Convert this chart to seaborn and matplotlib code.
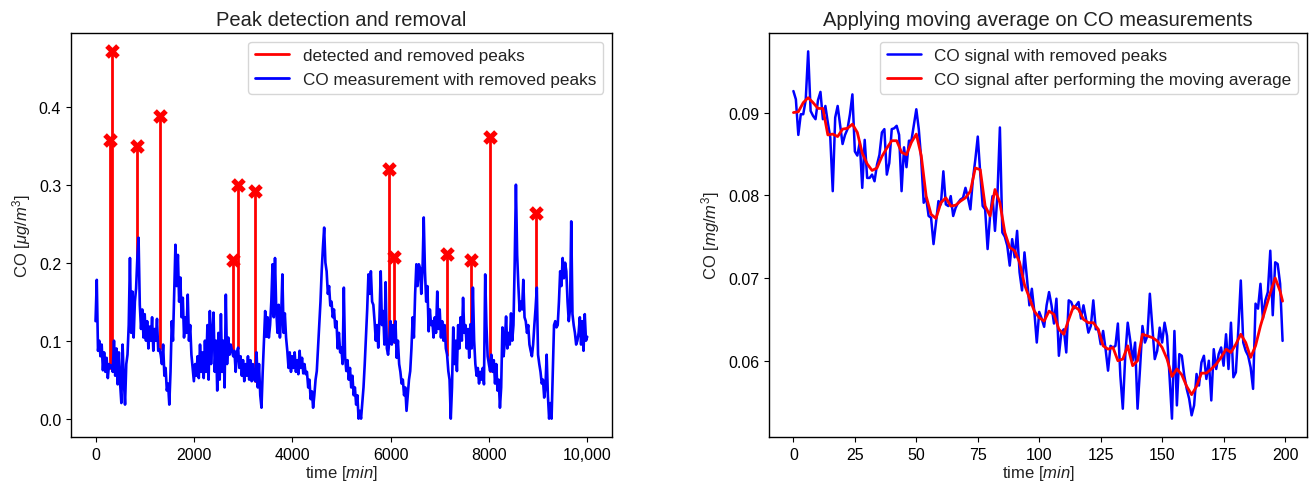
import numpy as np
import pandas as pd
import matplotlib
matplotlib.use("Agg")
import matplotlib.pyplot as plt
from matplotlib.lines import Line2D
import seaborn as sns

# ---------------- data: left panel (CO, 0..10000 min, every 25 min) ----------------
left_time = np.arange(0, 10001, 25)
left_co = [
    0.125, 0.178, 0.087, 0.100, 0.080, 0.095, 0.062, 0.085, 0.060, 0.078, 0.052, 0.070, 0.065, 0.068, 0.060, 0.100, 0.055, 0.090, 0.044, 0.085,
    0.045, 0.020, 0.095, 0.050, 0.018, 0.070, 0.082, 0.120, 0.206, 0.110, 0.163, 0.104, 0.150, 0.167, 0.206, 0.232, 0.146, 0.115, 0.140, 0.104,
    0.134, 0.100, 0.125, 0.090, 0.118, 0.100, 0.130, 0.087, 0.115, 0.100, 0.128, 0.087, 0.089, 0.082, 0.070, 0.095, 0.055, 0.065, 0.036, 0.045,
    0.018, 0.060, 0.125, 0.100, 0.160, 0.223, 0.170, 0.210, 0.150, 0.181, 0.130, 0.155, 0.104, 0.130, 0.110, 0.159, 0.100, 0.120, 0.082, 0.065,
    0.048, 0.070, 0.055, 0.080, 0.052, 0.095, 0.060, 0.085, 0.052, 0.100, 0.060, 0.120, 0.050, 0.138, 0.070, 0.110, 0.136, 0.060, 0.100, 0.036,
    0.110, 0.050, 0.134, 0.060, 0.100, 0.040, 0.159, 0.070, 0.104, 0.082, 0.095, 0.087, 0.080, 0.087, 0.060, 0.085, 0.091, 0.065, 0.080, 0.055,
    0.075, 0.048, 0.070, 0.055, 0.080, 0.050, 0.075, 0.048, 0.070, 0.050, 0.048, 0.085, 0.040, 0.070, 0.030, 0.014, 0.060, 0.100, 0.138, 0.105,
    0.130, 0.104, 0.120, 0.150, 0.198, 0.130, 0.206, 0.140, 0.110, 0.146, 0.104, 0.130, 0.185, 0.110, 0.135, 0.104, 0.087, 0.065, 0.085, 0.060,
    0.080, 0.065, 0.085, 0.060, 0.075, 0.057, 0.087, 0.065, 0.078, 0.058, 0.070, 0.057, 0.060, 0.040, 0.050, 0.025, 0.035, 0.014, 0.030, 0.050,
    0.061, 0.090, 0.120, 0.150, 0.190, 0.220, 0.245, 0.200, 0.189, 0.160, 0.170, 0.145, 0.150, 0.130, 0.140, 0.117, 0.125, 0.090, 0.110, 0.085,
    0.091, 0.070, 0.168, 0.080, 0.061, 0.075, 0.050, 0.065, 0.040, 0.055, 0.030, 0.040, 0.018, 0.030, 0.000, 0.010, 0.000, 0.020, 0.040, 0.070,
    0.104, 0.140, 0.185, 0.160, 0.189, 0.150, 0.146, 0.125, 0.100, 0.120, 0.091, 0.130, 0.189, 0.120, 0.138, 0.095, 0.175, 0.090, 0.082, 0.100,
    0.125, 0.095, 0.120, 0.098, 0.125, 0.078, 0.100, 0.070, 0.060, 0.045, 0.050, 0.030, 0.040, 0.010, 0.030, 0.050, 0.061, 0.090, 0.130, 0.104,
    0.160, 0.198, 0.170, 0.198, 0.193, 0.160, 0.190, 0.258, 0.189, 0.150, 0.170, 0.112, 0.140, 0.120, 0.125, 0.104, 0.130, 0.110, 0.163, 0.115,
    0.140, 0.104, 0.125, 0.100, 0.120, 0.090, 0.082, 0.061, 0.050, 0.000, 0.040, 0.117, 0.070, 0.100, 0.061, 0.120, 0.090, 0.130, 0.100, 0.155,
    0.110, 0.120, 0.090, 0.115, 0.078, 0.121, 0.090, 0.168, 0.100, 0.070, 0.055, 0.065, 0.045, 0.060, 0.050, 0.065, 0.044, 0.185, 0.120, 0.080,
    0.070, 0.061, 0.082, 0.060, 0.075, 0.045, 0.070, 0.036, 0.050, 0.014, 0.040, 0.117, 0.080, 0.100, 0.131, 0.090, 0.110, 0.095, 0.135, 0.100,
    0.120, 0.200, 0.300, 0.210, 0.170, 0.138, 0.150, 0.140, 0.178, 0.130, 0.125, 0.110, 0.120, 0.095, 0.087, 0.080, 0.095, 0.120, 0.142, 0.168,
    0.082, 0.070, 0.060, 0.045, 0.050, 0.027, 0.040, 0.082, 0.030, 0.000, 0.020, 0.000, 0.060, 0.120, 0.125, 0.117, 0.120, 0.150, 0.189, 0.170,
    0.206, 0.180, 0.200, 0.189, 0.150, 0.125, 0.140, 0.253, 0.134, 0.120, 0.110, 0.095, 0.100, 0.110, 0.130, 0.095, 0.125, 0.087, 0.134, 0.100,
    0.105,
]

# detected peaks: time, peak value, value of the signal under the peak
peak_time = [289, 336, 851, 1306, 2788, 2904, 3243, 5974, 6076, 7141, 7627, 8020, 8949]
peak_value = [0.357, 0.471, 0.350, 0.388, 0.203, 0.300, 0.292, 0.320, 0.207, 0.211, 0.203, 0.361, 0.264]
peak_base = [0.065, 0.068, 0.206, 0.089, 0.087, 0.091, 0.048, 0.100, 0.098, 0.082, 0.121, 0.061, 0.142]

left_xticks = [0, 2000, 4000, 6000, 8000, 10000]
left_xticklabels = ["0", "2000", "4000", "6000", "8000", "10,000"]

# ---------------- data: right panel (first 200 min) ----------------
right_time = np.arange(200)
right_co = [
    0.0926, 0.0916, 0.0873, 0.0898, 0.0898, 0.0915, 0.0974, 0.0902, 0.0896, 0.0892,
    0.0915, 0.0925, 0.0892, 0.0908, 0.0888, 0.0870, 0.0805, 0.0894, 0.0908, 0.0885,
    0.0862, 0.0873, 0.0880, 0.0898, 0.0922, 0.0853, 0.0848, 0.0864, 0.0809, 0.0867,
    0.0821, 0.0821, 0.0825, 0.0817, 0.0837, 0.0849, 0.0876, 0.0880, 0.0825, 0.0839,
    0.0880, 0.0881, 0.0884, 0.0873, 0.0805, 0.0858, 0.0834, 0.0866, 0.0866, 0.0885,
    0.0904, 0.0880, 0.0843, 0.0791, 0.0797, 0.0775, 0.0773, 0.0741, 0.0767, 0.0793,
    0.0789, 0.0829, 0.0789, 0.0787, 0.0799, 0.0775, 0.0785, 0.0791, 0.0795, 0.0797,
    0.0809, 0.0797, 0.0783, 0.0819, 0.0843, 0.0871, 0.0827, 0.0787, 0.0783, 0.0735,
    0.0775, 0.0799, 0.0757, 0.0800, 0.0882, 0.0755, 0.0750, 0.0739, 0.0715, 0.0747,
    0.0725, 0.0757, 0.0707, 0.0685, 0.0731, 0.0700, 0.0667, 0.0687, 0.0660, 0.0622,
    0.0659, 0.0651, 0.0641, 0.0667, 0.0683, 0.0667, 0.0645, 0.0675, 0.0606, 0.0634,
    0.0638, 0.0610, 0.0673, 0.0671, 0.0663, 0.0667, 0.0671, 0.0651, 0.0667, 0.0651,
    0.0634, 0.0642, 0.0673, 0.0638, 0.0638, 0.0620, 0.0636, 0.0614, 0.0588, 0.0618,
    0.0616, 0.0618, 0.0645, 0.0582, 0.0542, 0.0606, 0.0646, 0.0625, 0.0600, 0.0622,
    0.0542, 0.0590, 0.0642, 0.0622, 0.0630, 0.0681, 0.0642, 0.0602, 0.0612, 0.0640,
    0.0622, 0.0646, 0.0630, 0.0582, 0.0530, 0.0636, 0.0546, 0.0608, 0.0606, 0.0582,
    0.0566, 0.0554, 0.0534, 0.0546, 0.0584, 0.0570, 0.0598, 0.0606, 0.0578, 0.0600,
    0.0552, 0.0614, 0.0590, 0.0608, 0.0616, 0.0594, 0.0632, 0.0590, 0.0646, 0.0580,
    0.0586, 0.0638, 0.0697, 0.0622, 0.0612, 0.0606, 0.0592, 0.0566, 0.0669, 0.0663,
    0.0693, 0.0651, 0.0673, 0.0683, 0.0733, 0.0655, 0.0719, 0.0717, 0.0693, 0.0624,
]

# moving-average curve (every 2 min + last point)
ma_time = list(range(0, 200, 2)) + [199]
ma_co = [
    0.0900, 0.0901, 0.0912, 0.0918, 0.0912, 0.0905, 0.0905, 0.0873, 0.0874, 0.0871,
    0.0880, 0.0881, 0.0886, 0.0876, 0.0851, 0.0838, 0.0830, 0.0833, 0.0847, 0.0857,
    0.0866, 0.0866, 0.0852, 0.0849, 0.0864, 0.0874, 0.0848, 0.0799, 0.0777, 0.0772,
    0.0791, 0.0797, 0.0787, 0.0788, 0.0793, 0.0797, 0.0805, 0.0833, 0.0831, 0.0787,
    0.0775, 0.0807, 0.0791, 0.0755, 0.0737, 0.0733, 0.0719, 0.0692, 0.0676, 0.0660,
    0.0652, 0.0648, 0.0660, 0.0656, 0.0638, 0.0632, 0.0650, 0.0666, 0.0662, 0.0650,
    0.0646, 0.0646, 0.0638, 0.0618, 0.0614, 0.0616, 0.0600, 0.0602, 0.0618, 0.0594,
    0.0600, 0.0632, 0.0630, 0.0628, 0.0624, 0.0616, 0.0602, 0.0581, 0.0590, 0.0583,
    0.0569, 0.0559, 0.0569, 0.0585, 0.0585, 0.0590, 0.0596, 0.0604, 0.0614, 0.0610,
    0.0620, 0.0632, 0.0622, 0.0604, 0.0618, 0.0642, 0.0662, 0.0682, 0.0700, 0.0684,
    0.0672,
]

# ---------------- style ----------------
sns.set_style("ticks")
plt.rcParams["font.family"] = ["Liberation Sans", "DejaVu Sans"]
plt.rcParams.update({
    "mathtext.fontset": "custom",
    "mathtext.rm": "Liberation Sans",
    "mathtext.it": "Liberation Sans:italic",
    "axes.edgecolor": "black",
    "axes.linewidth": 1.0,
    "xtick.color": "black",
    "ytick.color": "black",
    "xtick.major.size": 3.5,
    "ytick.major.size": 3.5,
    "xtick.major.width": 0.8,
    "ytick.major.width": 0.8,
    "xtick.labelsize": 11.5,
    "ytick.labelsize": 11.5,
    "axes.labelsize": 12,
    "axes.titlesize": 14.5,
    "legend.fontsize": 12.3,
    "text.color": "#222222",
    "axes.labelcolor": "#222222",
})

fig = plt.figure(figsize=(13.14, 4.85), dpi=100)
ax1 = fig.add_axes([0.054, 0.0969, 0.4116, 0.833])
ax2 = fig.add_axes([0.5852, 0.0969, 0.4095, 0.833])

# ---- left panel ----
stems = pd.DataFrame({
    "t": np.repeat(peak_time, 2),
    "co": np.column_stack([peak_base, peak_value]).ravel(),
    "peak": np.repeat(np.arange(len(peak_time)), 2),
})
sns.lineplot(data=stems, x="t", y="co", units="peak", estimator=None, sort=False,
             color="red", linewidth=2.0, ax=ax1, legend=False)
left_df = pd.DataFrame({"t": left_time, "co": left_co})
sns.lineplot(data=left_df, x="t", y="co", estimator=None, sort=False,
             color="blue", linewidth=1.9, ax=ax1, legend=False)
peaks_df = pd.DataFrame({"t": peak_time, "co": peak_value})
sns.scatterplot(data=peaks_df, x="t", y="co", marker="X", s=110, color="red",
                linewidth=0, ax=ax1, legend=False, zorder=4)

ax1.set_xticks(left_xticks)
ax1.set_xticklabels(left_xticklabels)
ax1.set_title("Peak detection and removal")
ax1.set_xlabel(r"time [$min$]", labelpad=1)
ax1.set_ylabel(r"CO [$\mu g/m^3$]")
ax1.legend(handles=[Line2D([], [], color="red", lw=2), Line2D([], [], color="blue", lw=2)],
           labels=["detected and removed peaks", "CO measurement with removed peaks"],
           loc="upper right")

# ---- right panel ----
right_df = pd.DataFrame({"t": right_time, "co": right_co})
ma_df = pd.DataFrame({"t": ma_time, "co": ma_co})
sns.lineplot(data=right_df, x="t", y="co", estimator=None, sort=False,
             color="blue", linewidth=1.8, ax=ax2, label="CO signal with removed peaks")
sns.lineplot(data=ma_df, x="t", y="co", estimator=None, sort=False,
             color="red", linewidth=2.0, ax=ax2, label="CO signal after performing the moving average")
ax2.set_title("Applying moving average on CO measurements")
ax2.set_xlabel(r"time [$min$]", labelpad=1)
ax2.set_ylabel(r"CO [$mg/m^3$]")
ax2.legend(loc="upper right")

fig.savefig("out.png", dpi=100)
